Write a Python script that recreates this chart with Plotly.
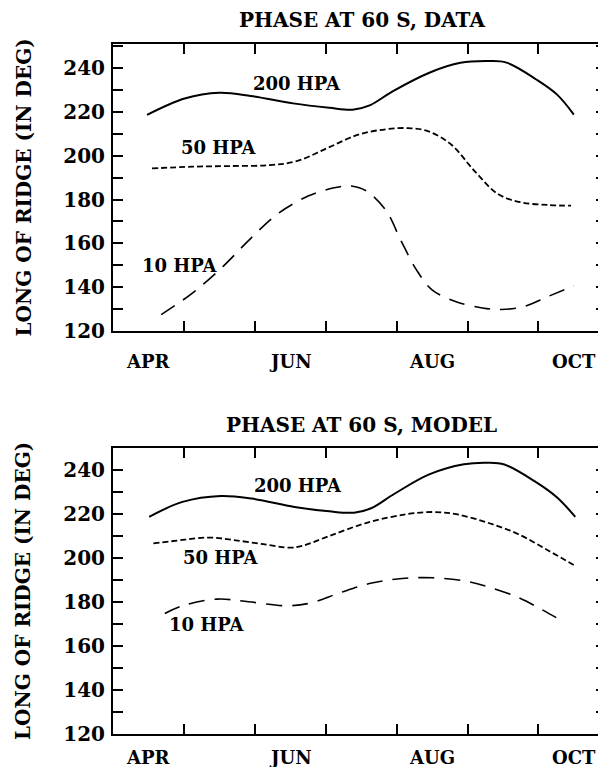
import plotly.graph_objects as go

# ---------------- data (x in months: 4 = 1 Apr, 5 = 1 May, ...) ----------------
data200_x = [4.48, 5.01, 5.5, 5.94, 6.54, 7.05, 7.38, 7.62, 7.95, 8.47, 8.9, 9.3, 9.55, 9.97, 10.26, 10.5]
data200_y = [218.6, 226.1, 228.7, 227.3, 223.9, 221.9, 221.0, 223.0, 229.5, 238.0, 242.4, 243.2, 242.5, 234.8, 228.0, 218.8]

data50_x = [4.55, 5.12, 5.66, 6.21, 6.59, 7.03, 7.46, 7.85, 8.17, 8.45, 8.77, 9.1, 9.43, 9.76, 10.14, 10.46]
data50_y = [194.2, 195.0, 195.3, 195.7, 197.5, 203.6, 209.6, 212.1, 212.6, 211.1, 205.1, 193.0, 182.5, 178.7, 177.5, 177.2]

data10_x = [4.68, 5.12, 5.55, 5.94, 6.32, 6.76, 7.14, 7.36, 7.57, 7.85, 8.06, 8.28, 8.5, 8.83, 9.21, 9.48, 9.81, 10.14, 10.5]
data10_y = [127.5, 137.3, 149.4, 162.2, 173.4, 181.7, 185.5, 186.2, 184.0, 175.0, 161.4, 147.9, 138.8, 133.5, 130.5, 129.8, 131.3, 135.8, 140.6]

model200_x = [4.51, 4.98, 5.52, 5.96, 6.56, 7.05, 7.4, 7.64, 7.97, 8.46, 8.95, 9.28, 9.52, 9.95, 10.26, 10.52]
model200_y = [218.7, 225.5, 228.2, 227.0, 223.2, 221.2, 220.6, 222.6, 229.2, 238.0, 242.6, 243.3, 242.5, 234.8, 227.6, 218.7]

model50_x = [4.57, 4.98, 5.36, 5.69, 6.12, 6.5, 6.67, 7.05, 7.59, 8.14, 8.52, 8.84, 9.28, 9.72, 10.15, 10.52]
model50_y = [206.6, 208.2, 209.3, 208.2, 206.3, 204.7, 205.5, 210.0, 216.1, 219.9, 220.9, 219.9, 216.1, 210.8, 203.2, 196.4]

model10_x = [4.73, 4.98, 5.47, 5.91, 6.45, 6.78, 7.21, 7.65, 8.08, 8.52, 8.95, 9.28, 9.72, 10.04, 10.29]
model10_y = [174.8, 178.3, 181.3, 180.1, 178.3, 179.5, 184.3, 188.6, 190.7, 191.0, 189.6, 187.0, 182.0, 176.7, 172.2]

month_label_pos = [4.5, 6.5, 8.5, 10.5]
month_labels = ["APR", "JUN", "AUG", "OCT"]
month_bounds = [5, 6, 7, 8, 9, 10]
y_tickvals = [120, 140, 160, 180, 200, 220, 240]
y_ticktext = ["120", "140", "160", "180", "200", "220", "240"]

panel_titles = ["PHASE AT 60 S, DATA", "PHASE AT 60 S, MODEL"]
y_title = "LONG OF RIDGE (IN DEG)"
curve_names = ["200 HPA", "50 HPA", "10 HPA"]
data_label_xy = [(6.59, 232.9), (5.5, 203.6), (4.95, 150.1)]
model_label_xy = [(6.61, 233.0), (5.52, 200.2), (5.33, 170.0)]

# ---------------- figure ----------------
OFF = 8                      # default page body margin
W, H = 606 - OFF, 767 - OFF
L = 113 - OFF
PXM = 70.9                   # pixels per month
FONT = dict(family="DejaVu Serif", size=20, color="black", weight="bold")


def py(screen_y):
    """screen pixel row -> paper fraction"""
    return 1 - (screen_y - OFF) / H


def px(screen_x):
    return (screen_x - OFF - L) / (W - L)


fig = go.Figure()
dashes = ["solid", "6px,3px", "16px,10px"]
widths = [2, 1.8, 1.6]

panels = [
    ("x", "y", [(data200_x, data200_y), (data50_x, data50_y), (data10_x, data10_y)], data_label_xy),
    ("x2", "y2", [(model200_x, model200_y), (model50_x, model50_y), (model10_x, model10_y)], model_label_xy),
]
for xa, ya, series, labxy in panels:
    for (sx, sy), d, w in zip(series, dashes, widths):
        fig.add_trace(go.Scatter(x=sx, y=sy, xaxis=xa, yaxis=ya, mode="lines",
                                 line=dict(color="black", width=w, dash=d, shape="spline", smoothing=1.0),
                                 showlegend=False, hoverinfo="skip"))
    for name, (lx, ly) in zip(curve_names, labxy):
        fig.add_annotation(x=lx, y=ly, xref=xa, yref=ya, text=name, showarrow=False,
                           font=dict(FONT, size=18))

xr = [4, 4 + (W - L) / PXM]
common_x = dict(range=xr, tickmode="array", tickvals=month_bounds, showticklabels=False,
                ticks="inside", ticklen=10, tickwidth=1.5, tickcolor="black",
                showline=True, linewidth=2, linecolor="black", mirror="ticks",
                showgrid=False, zeroline=False, automargin=False)
common_y = dict(tickmode="array", tickvals=y_tickvals, ticktext=y_ticktext,
                ticks="inside", ticklen=10, tickwidth=1.5, tickcolor="black",
                showline=True, linewidth=2, linecolor="black", mirror="ticks",
                showgrid=False, zeroline=False, tickfont=dict(FONT, size=20), ticklabelstandoff=2,
                automargin=False,
                minor=dict(dtick=10, tick0=130, ticks="inside", ticklen=10, tickwidth=1.5,
                           tickcolor="black", showgrid=False))

top_dom = [py(331), py(44)]
bot_dom = [py(734), py(448)]

fig.update_layout(
    width=W, height=H, margin=dict(l=L, r=0, t=0, b=0, autoexpand=False),
    paper_bgcolor="white", plot_bgcolor="white",
    xaxis=dict(common_x, domain=[0, 1], anchor="y"),
    yaxis=dict(common_y, domain=top_dom, anchor="x", range=[120, 251]),
    xaxis2=dict(common_x, domain=[0, 1], anchor="y2"),
    yaxis2=dict(common_y, domain=bot_dom, anchor="x2", range=[120, 250]),
)

# month labels centred in their month, below each panel
for xa, my in zip(["x", "x2"], [py(361), py(757)]):
    for pos, lab in zip(month_label_pos, month_labels):
        fig.add_annotation(x=pos, y=my, xref=xa, yref="paper", text=lab, showarrow=False,
                           font=dict(FONT, size=18), xanchor="center", yanchor="middle")

ytitle_y = [(top_dom[0] + top_dom[1]) / 2, (bot_dom[0] + bot_dom[1]) / 2]
for t, ty, yy in zip(panel_titles, [py(20), py(425)], ytitle_y):
    fig.add_annotation(x=px(361.5), y=ty, xref="paper", yref="paper", text=t, showarrow=False,
                       font=dict(FONT, size=20), xanchor="center", yanchor="middle")
    fig.add_annotation(x=px(23), y=yy, xref="paper", yref="paper", text=y_title,
                       showarrow=False, textangle=-90, font=dict(FONT, size=20),
                       xanchor="center", yanchor="middle")

fig.write_html("out.html")
